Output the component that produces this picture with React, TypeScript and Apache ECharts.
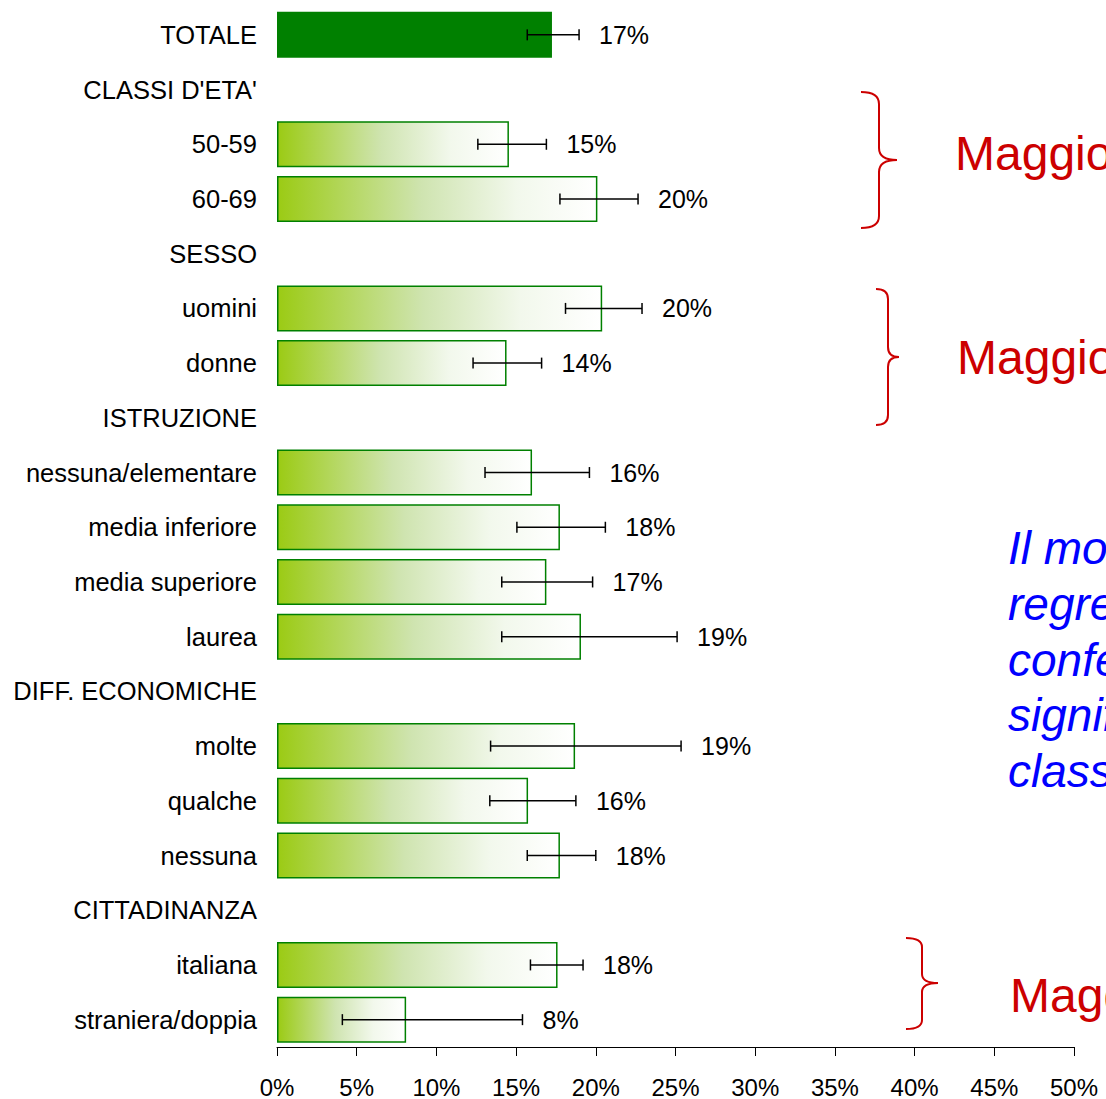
import React, { useEffect, useRef } from "react";
import * as echarts from "echarts";

const categories = [
  "TOTALE",
  "CLASSI D'ETA'",
  "50-59",
  "60-69",
  "SESSO",
  "uomini",
  "donne",
  "ISTRUZIONE",
  "nessuna/elementare",
  "media inferiore",
  "media superiore",
  "laurea",
  "DIFF. ECONOMICHE",
  "molte",
  "qualche",
  "nessuna",
  "CITTADINANZA",
  "italiana",
  "straniera/doppia",
];

const values: (number | null)[] = [
  17.25, null, 14.55, 20.1, null, 20.4, 14.4, null, 16.0, 17.75, 16.9, 19.07, null, 18.7, 15.75, 17.75, null, 17.6, 8.1,
];
const lower: (number | null)[] = [
  15.7, null, 12.6, 17.75, null, 18.1, 12.3, null, 13.05, 15.05, 14.1, 14.1, null, 13.4, 13.35, 15.7, null, 15.9, 4.1,
];
const upper: (number | null)[] = [
  18.95, null, 16.9, 22.65, null, 22.9, 16.6, null, 19.6, 20.6, 19.8, 25.1, null, 25.35, 18.75, 20.0, null, 19.2, 15.4,
];
const xTicks = { min: 0, max: 50, interval: 5 };

const redNotes = [
  { text: "Maggiore rischio per le classi di età più alte", x: 955, y: 153 },
  { text: "Maggiore rischio per gli uomini", x: 957, y: 357 },
  { text: "Maggiore rischio per italiani", x: 1010, y: 995 },
];
const blueLines = [
  "Il modello di",
  "regressione logistica",
  "conferma la",
  "significatività per le",
  "classi d'età, sesso e cittadinanza",
];

function bracePath(x0: number, xs: number, xt: number, y0: number, ym: number, y1: number, r: number) {
  return (
    `M${x0},${y0} Q${xs},${y0} ${xs},${y0 + r} L${xs},${ym - r} Q${xs},${ym} ${xt},${ym} ` +
    `Q${xs},${ym} ${xs},${ym + r} L${xs},${y1 - r} Q${xs},${y1} ${x0},${y1}`
  );
}

const braces = [
  { name: "brace1", d: bracePath(861, 879, 897, 92, 160, 228, 12) },
  { name: "brace2", d: bracePath(876, 888, 899, 289, 357, 425, 10) },
  { name: "brace3", d: bracePath(906, 922, 938, 938, 983, 1029, 9) },
];

let registered = false;
function registerBraces() {
  if (registered) return;
  braces.forEach((b) => {
    echarts.graphic.registerShape(b.name, (echarts.graphic as any).extendPath(b.d, {}));
  });
  registered = true;
}

export default function App() {
  const ref = useRef<HTMLDivElement>(null);
  useEffect(() => {
    if (!ref.current) return;
    registerBraces();
    const chart = echarts.init(ref.current, null, { renderer: "svg" });
    const font = "'Liberation Sans', Arial, sans-serif";
    const gradient = new echarts.graphic.LinearGradient(0, 0, 1, 0, [
      { offset: 0, color: "#9BCB14" },
      { offset: 0.45, color: "#CFE4B0" },
      { offset: 0.75, color: "#F2F8EC" },
      { offset: 1, color: "#FFFFFF" },
    ]);
    const barData = values.map((v, i) =>
      v === null
        ? null
        : i === 0
        ? { value: v, itemStyle: { color: "#008000", borderWidth: 0 } }
        : { value: v, itemStyle: { color: gradient, borderColor: "#008000", borderWidth: 1.5 } }
    );
    const errData: any[] = [];
    values.forEach((v, i) => {
      if (v !== null && lower[i] !== null && upper[i] !== null) {
        errData.push([i, lower[i], upper[i], v]);
      }
    });

    const graphic: any[] = [];
    braces.forEach((b) => {
      graphic.push({
        type: b.name,
        x: 0,
        y: 0,
        silent: true,
        style: { fill: "none", stroke: "#CC0000", lineWidth: 2 },
      });
    });
    redNotes.forEach((n) => {
      graphic.push({
        type: "text",
        x: n.x,
        y: n.y,
        style: {
          text: n.text,
          fill: "#CC0000",
          font: `48px ${font}`,
          verticalAlign: "middle",
        },
      });
    });
    blueLines.forEach((t, i) => {
      graphic.push({
        type: "text",
        x: 1008,
        y: 548 + i * 55.8,
        style: {
          text: t,
          fill: "#0000FF",
          font: `italic 46px ${font}`,
          verticalAlign: "middle",
        },
      });
    });

    chart.setOption({
      animation: false,
      backgroundColor: "#FFFFFF",
      grid: { left: 277, right: 32, top: 7.5, bottom: 49.5, containLabel: false },
      xAxis: {
        type: "value",
        min: xTicks.min,
        max: xTicks.max,
        interval: xTicks.interval,
        axisLine: { show: true, lineStyle: { color: "#000000", width: 1 } },
        axisTick: { show: true, length: 9, lineStyle: { color: "#000000" } },
        splitLine: { show: false },
        axisLabel: {
          formatter: "{value}%",
          color: "#000000",
          fontSize: 24,
          fontFamily: font,
          margin: 28,
        },
      },
      yAxis: {
        type: "category",
        data: categories,
        inverse: true,
        axisLine: { show: false },
        axisTick: { show: false },
        axisLabel: { color: "#000000", fontSize: 25.5, fontFamily: font, margin: 20 },
      },
      graphic,
      series: [
        {
          type: "bar",
          data: barData,
          barWidth: 46,
          silent: true,
        },
        {
          type: "custom",
          data: errData,
          encode: { x: [1, 2], y: 0 },
          silent: true,
          z: 5,
          renderItem: (params: any, api: any) => {
            const idx = api.value(0);
            const lo = api.coord([api.value(1), idx]);
            const hi = api.coord([api.value(2), idx]);
            const v = api.value(3);
            const cap = 5.5;
            const st = { stroke: "#000000", lineWidth: 1.5 };
            return {
              type: "group",
              children: [
                { type: "line", shape: { x1: lo[0], y1: lo[1], x2: hi[0], y2: hi[1] }, style: st },
                { type: "line", shape: { x1: lo[0], y1: lo[1] - cap, x2: lo[0], y2: lo[1] + cap }, style: st },
                { type: "line", shape: { x1: hi[0], y1: hi[1] - cap, x2: hi[0], y2: hi[1] + cap }, style: st },
                {
                  type: "text",
                  x: hi[0] + 20,
                  y: hi[1],
                  style: {
                    text: Math.round(v) + "%",
                    fill: "#000000",
                    font: `25px ${font}`,
                    verticalAlign: "middle",
                  },
                },
              ],
            };
          },
        },
      ],
    });
    return () => chart.dispose();
  }, []);
  return <div ref={ref} style={{ width: 1106, height: 1099, position: "absolute", left: 0, top: 0 }} />;
}
